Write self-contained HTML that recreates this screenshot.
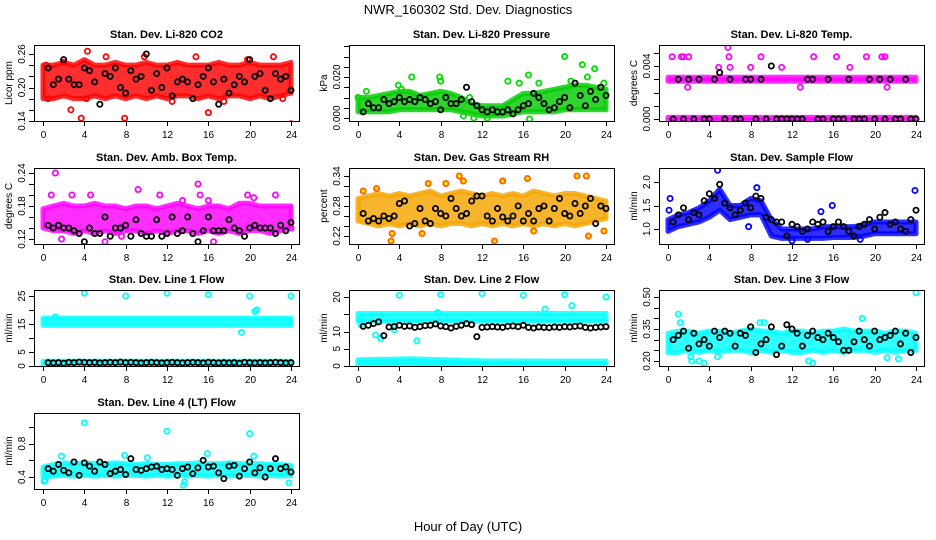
<!DOCTYPE html>
<html><head><meta charset="utf-8"><style>
html,body{margin:0;padding:0;background:#fff;}
svg{display:block;font-family:"Liberation Sans",Arial,sans-serif;}
</style></head><body>
<svg id="chart" width="936" height="540" viewBox="0 0 936 540" xmlns="http://www.w3.org/2000/svg">
<rect x="0" y="0" width="936" height="540" fill="#fff"/>
<text x="468" y="14" text-anchor="middle" font-size="13">NWR_160302  Std. Dev. Diagnostics</text>
<text x="468" y="531" text-anchor="middle" font-size="13">Hour of Day (UTC)</text>
</svg>
<script>
// shared x data
const bandHoursFull=[0,1,2,3,4,5,6,7,8,9,10,11,12,13,14,15,16,17,18,19,20,21,22,23,24];
const bandHoursFlat=[0,24];
const blackHours=[0.5,1,1.5,2,2.5,3,3.5,4,4.5,5,5.5,6,6.5,7,7.5,8,8.5,9,9.5,10,10.5,11,11.5,12,12.5,13,13.5,14,14.5,15,15.5,16,16.5,17,17.5,18,18.5,19,19.5,20,20.5,21,21.5,22,22.5,23,23.5,24];
const xTicks=[0,4,8,12,16,20,24];

// Panel 1 CO2
const co2Lo=[0.18,0.18,0.185,0.18,0.18,0.185,0.18,0.185,0.18,0.185,0.18,0.185,0.18,0.185,0.185,0.18,0.185,0.18,0.185,0.185,0.18,0.185,0.18,0.185,0.19];
const co2Hi=[0.24,0.24,0.245,0.24,0.25,0.24,0.24,0.245,0.24,0.24,0.245,0.24,0.24,0.245,0.24,0.24,0.24,0.245,0.24,0.24,0.245,0.24,0.24,0.24,0.245];
const co2OutX=[0.3,0.5,2,2.7,3.7,4.3,4.2,6.1,7.9,9.8,12.5,14.8,16,17.5,19.8,22.3,24,23.2];
const co2OutY=[0.24,0.18,0.245,0.16,0.145,0.265,0.18,0.255,0.145,0.255,0.175,0.255,0.155,0.175,0.25,0.255,0.135,0.18];
const co2Black=[0.235,0.205,0.215,0.25,0.215,0.205,0.205,0.235,0.23,0.21,0.17,0.225,0.22,0.235,0.20,0.19,0.23,0.215,0.22,0.26,0.195,0.225,0.20,0.235,0.185,0.21,0.215,0.21,0.18,0.205,0.22,0.235,0.21,0.17,0.215,0.19,0.205,0.22,0.21,0.25,0.22,0.225,0.195,0.18,0.225,0.215,0.22,0.195];
// Panel 2 Pressure
const presLo=[0.003,0.003,0.003,0.003,0.004,0.004,0.004,0.004,0.004,0.004,0.003,0.002,0.001,0.001,0.001,0.002,0.003,0.003,0.003,0.003,0.004,0.004,0.004,0.004,0.004];
const presHi=[0.010,0.010,0.011,0.012,0.013,0.013,0.011,0.012,0.013,0.012,0.010,0.007,0.006,0.006,0.006,0.009,0.012,0.012,0.013,0.014,0.015,0.016,0.016,0.015,0.014];
const presOutX=[0,0.8,3.9,4.2,5.2,7.9,8,10.2,10.8,11.2,12.5,14.5,15.6,16.5,16.6,17.5,20,20.6,21.7,22.2,22.9,23.8];
const presOutY=[0.010,0.013,0.016,0.014,0.020,0.020,0.018,0.001,0.010,0.000,0.000,0.018,0.017,0.021,-0.0005,0.017,0.030,0.018,0.026,0.020,0.024,0.017];
const presBlack=[0.003,0.007,0.005,0.005,0.009,0.007,0.008,0.010,0.008,0.009,0.008,0.010,0.009,0.007,0.008,0.004,0.010,0.007,0.007,0.009,0.015,0.008,0.006,0.004,0.003,0.004,0.003,0.003,0.004,0.002,0.004,0.006,0.007,0.012,0.010,0.007,0.004,0.005,0.008,0.010,0.005,0.017,0.011,0.006,0.013,0.009,0.015,0.011];
// Panel 3 Li-820 Temp
const tempLo1=[-0.00012,-0.00012];
const tempHi1=[0.00012,0.00012];
const tempLo2=[0.00285,0.00285];
const tempHi2=[0.00315,0.00315];
const tempOutX=[0.2,0.4,1.1,1.3,1.5,2,1.9,4.9,5.8,5.9,6,8,9,10.5,11,12.8,14.1,16.3,17.6,19.2,19.5,20.7,21,21.2,23.5];
const tempOutY=[0.0064,0.0047,0.0059,0.0047,0.0047,0.0047,0.0024,0.0039,0.0054,0.0047,0.0039,0.0039,0.0047,0.0059,0.0039,0.0024,0.0047,0.0047,0.0039,0.0047,0.0059,0.0047,0.0047,0.0024,0.0059];
const tempBlack=[0,0.003,0,0.003,0,0.003,0,0,0.003,0.0035,0,0.003,0,0,0.003,0.003,0,0.003,0,0.004,0,0,0,0,0,0,0.003,0.003,0,0,0.003,0,0,0,0.003,0,0,0,0.003,0,0.003,0,0.003,0,0,0.003,0,0];
// Panel 4 Amb Box Temp
const ambLo=[0.14,0.135,0.135,0.13,0.135,0.13,0.135,0.13,0.135,0.135,0.13,0.135,0.13,0.135,0.135,0.13,0.135,0.13,0.135,0.13,0.135,0.135,0.13,0.135,0.14];
const ambHi=[0.175,0.18,0.185,0.18,0.18,0.185,0.18,0.18,0.175,0.18,0.18,0.175,0.18,0.185,0.18,0.175,0.18,0.18,0.175,0.185,0.185,0.18,0.18,0.18,0.18];
const ambOutX=[1.2,0.8,2.8,4.6,9.2,11.3,13.5,15,15.2,16,19.8,20.4,22.5,1.8,6,7.6,16.5,24];
const ambOutY=[0.24,0.2,0.2,0.2,0.21,0.2,0.19,0.22,0.2,0.19,0.2,0.195,0.2,0.12,0.115,0.125,0.115,0.14];
const ambBlack=[0.145,0.14,0.145,0.14,0.14,0.135,0.13,0.115,0.14,0.13,0.13,0.16,0.125,0.14,0.14,0.145,0.125,0.155,0.13,0.125,0.125,0.155,0.125,0.13,0.16,0.13,0.135,0.16,0.13,0.115,0.135,0.16,0.135,0.135,0.135,0.155,0.14,0.135,0.125,0.14,0.145,0.14,0.14,0.14,0.13,0.145,0.135,0.15];
// Panel 5 Gas Stream RH
const rhLo=[0.25,0.245,0.24,0.245,0.24,0.245,0.24,0.245,0.24,0.245,0.245,0.24,0.245,0.24,0.245,0.24,0.245,0.24,0.245,0.24,0.245,0.24,0.245,0.25,0.255];
const rhHi=[0.295,0.30,0.305,0.30,0.305,0.30,0.305,0.31,0.30,0.305,0.31,0.305,0.30,0.305,0.30,0.305,0.30,0.31,0.305,0.30,0.305,0.305,0.30,0.295,0.29];
const rhOutX=[0.5,1.8,3.2,3.3,6.8,8.5,9.8,10.2,13.2,16.4,17,21.2,22.1,22.3,23.8,14,6.2];
const rhOutY=[0.31,0.315,0.21,0.225,0.325,0.325,0.34,0.33,0.21,0.335,0.23,0.34,0.34,0.22,0.23,0.33,0.225];
const rhBlack=[0.265,0.25,0.255,0.25,0.26,0.255,0.26,0.285,0.29,0.24,0.245,0.275,0.25,0.245,0.275,0.265,0.26,0.295,0.275,0.26,0.265,0.29,0.30,0.30,0.26,0.25,0.275,0.258,0.25,0.26,0.28,0.25,0.265,0.25,0.275,0.28,0.25,0.275,0.295,0.265,0.26,0.285,0.265,0.28,0.295,0.245,0.28,0.275];
// Panel 6 Sample Flow
const sfLo=[0.95,1.05,1.1,1.15,1.25,1.4,1.2,1.25,1.3,1.3,0.85,0.8,0.8,0.8,0.8,0.8,0.82,0.82,0.82,0.85,0.9,0.9,0.9,0.9,0.9];
const sfHi=[1.2,1.3,1.35,1.45,1.6,1.85,1.5,1.5,1.65,1.6,1.2,1.0,1.0,1.0,1.0,1.05,1.05,1.05,1.05,1.1,1.15,1.15,1.15,1.15,1.15];
const sfOutX=[0.2,0.1,4.8,8.6,14.8,15.9,23.9,7.8,12,13.5,18.6];
const sfOutY=[1.65,1.4,2.25,1.88,1.37,1.5,1.82,1.05,0.75,0.78,0.78];
const sfBlack=[1.15,1.3,1.45,1.2,1.35,1.3,1.6,1.75,1.65,1.95,1.55,1.45,1.3,1.4,1.55,1.45,1.7,1.65,1.25,1.2,1.15,1.15,0.85,1.1,1.05,0.95,1.0,1.15,1.1,1.15,0.95,1.05,1.15,1.05,0.95,0.85,1.05,1.1,1.2,1.0,1.25,1.35,1.1,1.15,1.0,0.95,1.2,1.4];
// Panel 7 Line 1 Flow
const l1Lo1=[14.5,14.5]; const l1Hi1=[17.1,17.1];
const l1Lo2=[0.5,0.5]; const l1Hi2=[1.7,1.7];
const l1OutX=[4,8,12,16,20,24,20.5,20.7,19.2,1.2];
const l1OutY=[26,25,26,25.5,25,25,19.5,20,12,17.5];
const l1Black=[1.2,1.1,1.2,1.0,1.3,1.2,1.4,1.3,1.2,1.3,1.1,1.2,1.3,1.2,1.4,1.2,1.3,1.2,1.1,1.2,1.3,1.2,1.1,1.2,1.3,1.2,1.1,1.2,1.3,1.2,1.1,1.3,1.2,1.1,1.2,1.1,1.2,1.0,1.3,1.2,1.1,1.2,1.1,1.2,1.3,1.2,1.1,1.2];
// Panel 8 Line 2 Flow
const l2Lo1=[13,13]; const l2Hi1=[15.2,15.2];
const l2Lo2=[0.3,0.3,0.3,0.3,0.3]; const l2Hi2=[1.8,2.1,1.5,1.4,1.4];
const l2Hours2=[0,5,12,18,24];
const l2OutX=[4,8,12,16,20,24,7.7,5.7,1.7,2.2,20.7,18.1,0.3,3.5];
const l2OutY=[20.5,20.7,21,20.5,20.7,20,15.5,7.3,9,8,17.5,16.5,12,10.5];
const l2Black=[11.5,11.8,12.3,12.8,8.8,11.3,11.4,11.8,11.5,11.6,11.2,11.4,11.7,11.8,12.2,11.6,11.4,11.0,11.5,11.8,12.3,12.0,8.5,11.2,11.3,11.4,11.3,11.2,11.5,11.6,11.4,11.8,11.2,11.0,11.3,11.2,11.1,11.3,11.2,11.4,11.3,11.5,11.6,11.2,11.0,11.2,11.3,11.4];
// Panel 9 Line 3 Flow
const l3Lo=[0.24,0.24,0.25,0.24,0.25,0.24,0.25,0.25,0.24,0.25,0.24,0.25,0.24,0.24,0.25,0.24,0.25,0.24,0.25,0.25,0.24,0.25,0.24,0.25,0.25];
const l3Hi=[0.33,0.34,0.34,0.33,0.34,0.34,0.33,0.34,0.35,0.34,0.34,0.33,0.34,0.34,0.33,0.34,0.34,0.35,0.34,0.34,0.34,0.33,0.34,0.34,0.33];
const l3OutX=[1,1.2,2.3,3.5,2.2,4.8,8.9,9.3,13.6,14,18.8,21.2,24,3,22.3];
const l3OutY=[0.42,0.38,0.2,0.19,0.22,0.22,0.38,0.38,0.2,0.19,0.4,0.215,0.52,0.2,0.21];
const l3Black=[0.30,0.32,0.34,0.26,0.33,0.28,0.30,0.27,0.34,0.31,0.34,0.33,0.27,0.33,0.32,0.36,0.24,0.28,0.30,0.36,0.23,0.27,0.37,0.35,0.33,0.27,0.32,0.34,0.31,0.30,0.33,0.31,0.29,0.25,0.25,0.29,0.34,0.30,0.27,0.34,0.30,0.31,0.32,0.34,0.28,0.33,0.24,0.31];
// Panel 10 Line 4 Flow
const l4Lo=[0.4,0.41,0.42,0.41,0.42,0.41,0.42,0.41,0.42,0.42,0.41,0.42,0.41,0.42,0.41,0.42,0.41,0.42,0.41,0.42,0.42,0.41,0.42,0.41,0.42];
const l4Hi=[0.52,0.55,0.57,0.56,0.57,0.56,0.56,0.57,0.56,0.55,0.56,0.55,0.55,0.56,0.56,0.57,0.56,0.56,0.57,0.56,0.56,0.56,0.55,0.55,0.54];
const l4OutX=[4,12,20,1.8,7.9,15.9,20.4,13.6,13.7,23.8,0.1,0.2,10.1];
const l4OutY=[1.05,0.95,0.92,0.65,0.66,0.68,0.65,0.3,0.34,0.33,0.35,0.36,0.63];
const l4Black=[0.5,0.47,0.55,0.48,0.45,0.58,0.42,0.57,0.53,0.47,0.58,0.55,0.44,0.47,0.49,0.43,0.62,0.49,0.48,0.5,0.52,0.53,0.49,0.5,0.49,0.42,0.5,0.52,0.44,0.51,0.6,0.52,0.53,0.45,0.38,0.53,0.54,0.41,0.5,0.58,0.45,0.51,0.4,0.5,0.62,0.5,0.52,0.46];

const NS="http://www.w3.org/2000/svg";
const svg=document.getElementById('chart');
function mk(tag,attrs,parent){const e=document.createElementNS(NS,tag);for(const k in attrs)e.setAttribute(k,attrs[k]);(parent||svg).appendChild(e);return e;}

const colL=[34,349,659], rowT=[45,168,290,413], W=265, H=76;
const panels=[
 {id:'co2',title:'Stan. Dev. Li-820 CO2',yl:'Licor ppm',c:0,r:0,col:'#ff0000',fill:'#ff0000',v1:0.26,o1:9,v2:0.14,o2:76,ticks:[0.14,0.16,0.18,0.20,0.22,0.24,0.26],labs:[0.14,0.20,0.26],dp:2,
  bands:[[bandHoursFull,co2Lo,co2Hi]],ox:co2OutX,oy:co2OutY,bk:co2Black},
 {id:'pressure',title:'Stan. Dev. Li-820 Pressure',yl:'kPa',c:1,r:0,col:'#00dd00',fill:'#00cc00',v1:0.02,o1:32,v2:0,o2:73,ticks:[0,0.005,0.01,0.015,0.02,0.025,0.03,0.035],labs:[0,0.02],dp:3,
  bands:[[bandHoursFull,presLo,presHi]],ox:presOutX,oy:presOutY,bk:presBlack},
 {id:'li820-temp',title:'Stan. Dev. Li-820 Temp.',yl:'degrees C',c:2,r:0,col:'#ff00ff',fill:'#ff00ff',v1:0.004,o1:21,v2:0,o2:74,ticks:[0,0.001,0.002,0.003,0.004,0.005],labs:[0,0.004],dp:3,
  bands:[[bandHoursFlat,tempLo1,tempHi1],[bandHoursFlat,tempLo2,tempHi2]],ox:tempOutX,oy:tempOutY,bk:tempBlack},
 {id:'amb-box-temp',title:'Stan. Dev. Amb. Box Temp.',yl:'degrees C',c:0,r:1,col:'#ff00ff',fill:'#ff00ff',v1:0.24,o1:5,v2:0.12,o2:71,ticks:[0.12,0.14,0.16,0.18,0.20,0.22,0.24],labs:[0.12,0.18,0.24],dp:2,
  bands:[[bandHoursFull,ambLo,ambHi]],ox:ambOutX,oy:ambOutY,bk:ambBlack},
 {id:'gas-rh',title:'Stan. Dev. Gas Stream RH',yl:'percent',c:1,r:1,col:'#ff6000',fill:'#f5a500',pf:'#ffee00',v1:0.34,o1:8,v2:0.22,o2:68,ticks:[0.22,0.24,0.26,0.28,0.30,0.32,0.34],labs:[0.22,0.28,0.34],dp:2,
  bands:[[bandHoursFull,rhLo,rhHi]],ox:rhOutX,oy:rhOutY,bk:rhBlack},
 {id:'sample-flow',title:'Stan. Dev. Sample Flow',yl:'ml/min',c:2,r:1,col:'#0000ff',fill:'#0000ff',v1:2.0,o1:14,v2:1.0,o2:61,ticks:[1.0,1.5,2.0],labs:[1.0,1.5,2.0],dp:1,
  bands:[[bandHoursFull,sfLo,sfHi]],ox:sfOutX,oy:sfOutY,bk:sfBlack},
 {id:'line1-flow',title:'Stan. Dev. Line 1 Flow',yl:'ml/min',c:0,r:2,col:'#00ffff',fill:'#00ffff',v1:25,o1:6,v2:0,o2:76,ticks:[0,5,10,15,20,25],labs:[0,5,15,25],dp:0,
  bands:[[bandHoursFlat,l1Lo1,l1Hi1],[bandHoursFlat,l1Lo2,l1Hi2]],ox:l1OutX,oy:l1OutY,bk:l1Black},
 {id:'line2-flow',title:'Stan. Dev. Line 2 Flow',yl:'ml/min',c:1,r:2,col:'#00ffff',fill:'#00ffff',v1:20,o1:7,v2:0,o2:76,ticks:[0,5,10,15,20],labs:[0,5,10,20],dp:0,
  bands:[[bandHoursFlat,l2Lo1,l2Hi1],[l2Hours2,l2Lo2,l2Hi2]],ox:l2OutX,oy:l2OutY,bk:l2Black},
 {id:'line3-flow',title:'Stan. Dev. Line 3 Flow',yl:'ml/min',c:2,r:2,col:'#00ffff',fill:'#00ffff',v1:0.5,o1:7,v2:0.2,o2:71,ticks:[0.2,0.25,0.3,0.35,0.4,0.45,0.5],labs:[0.2,0.35,0.5],dp:2,
  bands:[[bandHoursFull,l3Lo,l3Hi]],ox:l3OutX,oy:l3OutY,bk:l3Black},
 {id:'line4-flow',title:'Stan. Dev. Line 4 (LT) Flow',yl:'ml/min',c:0,r:3,col:'#00ffff',fill:'#00ffff',v1:1.0,o1:14,v2:0.4,o2:64,ticks:[0.4,0.6,0.8,1.0],labs:[0.4,0.8],dp:1,
  bands:[[bandHoursFull,l4Lo,l4Hi]],ox:l4OutX,oy:l4OutY,bk:l4Black}
];

panels.forEach(p=>{
  const L=colL[p.c], T=rowT[p.r];
  const xs=h=>L+9+h*248/24;
  const ys=v=>T+p.o1+(v-p.v1)*(p.o2-p.o1)/(p.v2-p.v1);
  const g=mk('g',{});
  
  
  const clipId='clip-'+p.id;
  const cp=mk('clipPath',{id:clipId},g); mk('rect',{x:L,y:T,width:W,height:H},cp);
  const plot=mk('g',{'clip-path':'url(#'+clipId+')'},g);
  
  
  p.bands.forEach((b,bi)=>{
    const [hh,lo,hi]=b; let pts=[];
    for(let i=0;i<hh.length;i++)pts.push(xs(hh[i])+','+ys(hi[i]));
    for(let i=hh.length-1;i>=0;i--)pts.push(xs(hh[i])+','+ys(lo[i]));
    const pg=mk('polygon',{points:pts.join(' '),fill:p.fill,stroke:p.fill,'stroke-width':5,'stroke-linejoin':'round','fill-opacity':0.82,'stroke-opacity':0.82},plot);
    
    
  });
  for(let i=0;i<p.ox.length;i++){
    const c=mk('circle',{cx:xs(p.ox[i]),cy:ys(p.oy[i]),r:2.6,fill:p.pf||'none',stroke:p.col,'stroke-width':1.8},plot);
    
    
  }
  for(let i=0;i<p.bk.length;i++){
    const c=mk('circle',{cx:xs(blackHours[i]),cy:ys(p.bk[i]),r:2.6,fill:'none',stroke:'#000','stroke-width':1.8},plot);
    
    
  }
  const bx=mk('rect',{x:L+0.5,y:T+0.5,width:W,height:H,fill:'none',stroke:'#000','stroke-width':1},g);
  
  
  const t=mk('text',{x:L+W/2,y:T-7,'text-anchor':'middle','font-size':11,'font-weight':'bold'},g);
  t.textContent=p.title;
  
  
  const xa=mk('g',{},g);
  
  
  mk('line',{x1:xs(xTicks[0]),x2:xs(xTicks[xTicks.length-1]),y1:T+H+0.5,y2:T+H+0.5,stroke:'#000'},xa);
  xTicks.forEach(v=>{
    const x=Math.round(xs(v))+0.5;
    mk('line',{x1:x,x2:x,y1:T+H,y2:T+H+5,stroke:'#000'},xa);
    const tl=mk('text',{x:x,y:T+H+17,'text-anchor':'middle','font-size':10},xa);
    tl.textContent=v;
    
    
  });
  const ya=mk('g',{},g);
  
  
  p.ticks.forEach(v=>{
    const y=Math.round(ys(v))+0.5;
    if(y<T-1||y>T+H+1)return;
    mk('line',{x1:L-5,x2:L,y1:y,y2:y,stroke:'#000'},ya);
  });
  p.labs.forEach(v=>{
    const y=ys(v), x=L-9;
    const tl=mk('text',{x:x,y:y,'text-anchor':'middle','font-size':10,transform:'rotate(-90 '+x+' '+y+')'},ya);
    tl.textContent=v.toFixed(p.dp);
    
    
  });
  const yx=L-22, yy=T+H/2;
  const yt=mk('text',{x:yx,y:yy,'text-anchor':'middle','font-size':10,transform:'rotate(-90 '+yx+' '+yy+')'},g);
  yt.textContent=p.yl;
  
  
});
</script>
</body></html>
